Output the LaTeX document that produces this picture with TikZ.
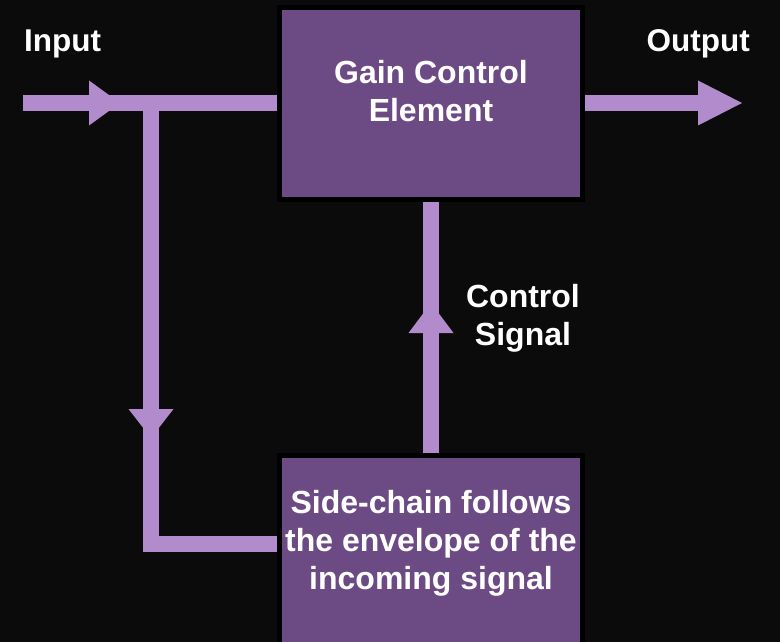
\documentclass[tikz,border=0pt]{standalone}
\usepackage{fontspec}
\setmainfont{Liberation Sans}
\usetikzlibrary{decorations.markings}
\definecolor{bgc}{HTML}{0B0B0B}
\definecolor{boxc}{HTML}{6C4A84}
\definecolor{linec}{HTML}{B18BCB}
\begin{document}
\begin{tikzpicture}[x=1pt,y=-1pt,
  blk/.style={draw=black, line width=5pt, fill=boxc, minimum width=303pt, minimum height=192pt,
    inner sep=0pt, text=white, align=center, font=\bfseries\fontsize{32}{38}\selectfont},
  lbl/.style={text=white, inner sep=0pt, font=\bfseries\fontsize{31.5}{38}\selectfont},
  wire/.style={draw=linec, line width=16pt},
  headat/.style args={#1/#2}{postaction={decorate},
    decoration={markings, mark=at position #1 with {\fill[linec] (0pt,-22.5pt) -- (#2,0pt) -- (0pt,22.5pt) -- cycle;}}}
]
\path[use as bounding box, fill=bgc] (0,0) rectangle (780,642);
\clip (0,0) rectangle (780,642);

\node[blk] (gce) at (431,103.5) {Gain Control\\Element\rule[-25pt]{0pt}{0pt}};
\node[blk] (sc) at (431,551.5) {Side-chain follows\\the envelope of the\\incoming signal\rule[-22.5pt]{0pt}{0pt}};

\node[lbl, anchor=base west] (in) at (24,51.7) {Input};
\node[lbl, anchor=base east] (out) at (750,51.7) {Output};
\node[lbl, align=center, font=\bfseries\fontsize{32}{38}\selectfont] (cs) at (523,318) {Control\\Signal};

\coordinate (src) at (23,103);
\coordinate (jn) at (151,103);
\coordinate (bend) at (151,544);
\coordinate (dst) at (698,103);

\draw[wire, headat={66pt/31pt}] (src) -- (src -| gce.west);
\draw[wire, headat={306pt/29pt}] (jn) -- (bend) -- (bend -| sc.west);
\draw[wire, headat={120pt/30pt}] (sc.north) -- (gce.south);
\draw[wire, headat={1/44pt}] (dst -| gce.east) -- (dst);
\end{tikzpicture}
\end{document}
